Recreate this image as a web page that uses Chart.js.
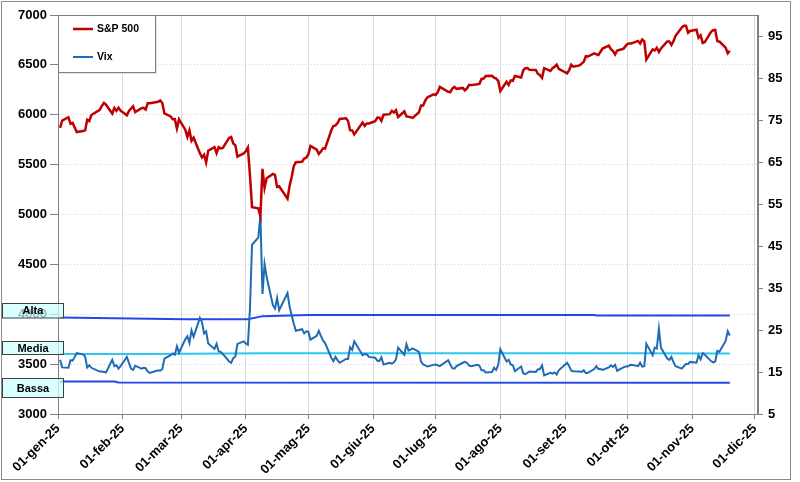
<!DOCTYPE html>
<html>
<head>
<meta charset="utf-8">
<script src="https://cdn.jsdelivr.net/npm/chart.js@4.4.0/dist/chart.umd.min.js"></script>
<style>
html, body { margin: 0; padding: 0; background: #fff; }
</style>
</head>
<body>
<canvas id="mycanvas" width="800" height="482"></canvas>
<script>
// giorni di borsa 2025 (mese-giorno)
var dates = [
	'01-02','01-03','01-06','01-07','01-08','01-10','01-13','01-14','01-15','01-16','01-17','01-21','01-22','01-23','01-24','01-27','01-28','01-29','01-30','01-31',
	'02-03','02-04','02-05','02-06','02-07','02-10','02-11','02-12','02-13','02-14','02-18','02-19','02-20','02-21','02-24','02-25','02-26','02-27','02-28',
	'03-03','03-04','03-05','03-06','03-07','03-10','03-11','03-12','03-13','03-14','03-17','03-18','03-19','03-20','03-21','03-24','03-25','03-26','03-27','03-28','03-31',
	'04-01','04-02','04-03','04-04','04-07','04-08','04-09','04-10','04-11','04-14','04-15','04-16','04-17','04-21','04-22','04-23','04-24','04-25','04-28','04-29','04-30',
	'05-01','05-02','05-05','05-06','05-07','05-08','05-09','05-12','05-13','05-14','05-15','05-16','05-19','05-20','05-21','05-22','05-23','05-27','05-28','05-29','05-30',
	'06-02','06-03','06-04','06-05','06-06','06-09','06-10','06-11','06-12','06-13','06-16','06-17','06-18','06-20','06-23','06-24','06-25','06-26','06-27','06-30',
	'07-01','07-02','07-03','07-07','07-08','07-09','07-10','07-11','07-14','07-15','07-16','07-17','07-18','07-21','07-22','07-23','07-24','07-25','07-28','07-29','07-30','07-31',
	'08-01','08-04','08-05','08-06','08-07','08-08','08-11','08-12','08-13','08-14','08-15','08-18','08-19','08-20','08-21','08-22','08-25','08-26','08-27','08-28','08-29',
	'09-02','09-03','09-04','09-05','09-08','09-09','09-10','09-11','09-12','09-15','09-16','09-17','09-18','09-19','09-22','09-23','09-24','09-25','09-26','09-29','09-30',
	'10-01','10-02','10-03','10-06','10-07','10-08','10-09','10-10','10-13','10-14','10-15','10-16','10-17','10-20','10-21','10-22','10-23','10-24','10-27','10-28','10-29','10-30','10-31',
	'11-03','11-04','11-05','11-06','11-07','11-10','11-11','11-12','11-13','11-14','11-17','11-18','11-19'
];

var spx = [
	5869,5942,5975,5909,5918,5827,5836,5843,5950,5937,5997,6049,6086,6119,6101,6012,6068,6039,6071,6041,
	5995,6038,6061,6084,6026,6066,6069,6052,6115,6115,6130,6144,6118,6013,5983,5955,5956,5862,5955,
	5850,5778,5843,5739,5770,5615,5572,5599,5522,5639,5675,5615,5675,5663,5668,5768,5777,5712,5693,5581,5612,
	5633,5671,5397,5074,5062,4983,5457,5268,5363,5406,5397,5276,5283,5158,5288,5376,5485,5525,5529,5561,5569,
	5604,5687,5650,5607,5631,5664,5660,5844,5887,5893,5917,5958,5964,5940,5845,5842,5803,5922,5889,5912,5912,
	5936,5970,5971,5939,6000,6006,6039,6022,6045,5977,6033,5983,5981,5968,6025,6092,6092,6141,6173,6205,
	6198,6227,6279,6230,6226,6263,6280,6260,6269,6244,6264,6297,6297,6306,6310,6359,6363,6389,6390,6371,6363,6339,
	6238,6330,6299,6345,6340,6389,6373,6446,6467,6469,6450,6449,6411,6396,6370,6467,6439,6466,6481,6502,6460,
	6416,6448,6502,6482,6495,6513,6532,6587,6584,6615,6607,6600,6632,6664,6694,6657,6638,6605,6644,6661,6688,
	6711,6715,6716,6740,6715,6754,6735,6553,6655,6644,6671,6629,6664,6735,6735,6699,6738,6792,6875,6891,6891,6822,6840,
	6852,6772,6796,6720,6729,6832,6847,6851,6737,6734,6672,6617,6642
];

var vix = [
	17.9,16.1,16.0,17.8,17.7,19.5,19.2,18.7,16.1,16.6,16.0,15.1,15.1,15.0,14.9,17.9,16.4,16.6,15.8,16.4,
	18.6,17.2,15.8,15.5,16.5,15.8,16.0,15.9,15.1,14.8,15.4,15.3,15.7,18.2,19.0,19.4,19.1,21.1,19.6,
	22.8,23.5,21.9,24.9,23.4,27.9,26.9,24.2,24.7,21.8,20.5,21.7,19.9,19.8,19.3,17.5,17.2,18.3,18.7,21.7,22.3,
	21.8,21.5,30.0,45.3,47.0,52.3,33.6,40.7,37.6,30.9,30.1,32.6,29.7,33.8,30.6,28.5,26.5,24.8,25.2,24.2,24.7,
	24.6,22.7,23.6,24.8,23.6,22.5,21.9,18.4,17.6,18.6,17.8,17.2,18.1,18.1,20.9,20.3,22.3,19.0,19.3,19.2,18.6,
	18.4,17.7,17.6,18.5,16.8,17.2,17.0,17.3,18.0,20.8,19.1,21.6,20.1,20.6,19.8,17.5,16.8,16.6,16.3,16.7,
	16.8,16.6,16.4,17.8,16.8,15.9,15.8,16.4,17.2,17.4,17.2,16.5,16.4,16.7,16.5,15.4,15.4,14.9,15.0,16.0,15.5,16.7,
	20.4,17.5,17.9,16.8,16.6,15.2,16.3,14.7,14.5,14.8,15.1,15.0,15.6,15.7,16.6,14.2,14.8,14.6,14.9,14.4,15.4,
	17.2,16.4,15.3,15.2,15.1,15.0,15.4,14.7,14.8,15.7,16.4,15.7,15.7,15.5,16.1,16.6,16.2,16.7,15.3,16.1,16.3,
	16.3,16.6,16.7,16.4,17.2,16.3,16.4,21.7,19.0,20.8,20.6,25.3,20.8,18.2,17.9,18.6,17.3,16.4,15.8,16.4,16.9,16.9,17.4,
	17.2,19.0,18.0,19.5,19.1,17.6,17.3,17.5,20.0,19.8,22.4,24.7,23.7
];

// livelli Vix (alta / media / bassa)
var altaDates = ['01-02','03-03','04-02','04-09','05-01','09-15','09-16','11-19'];
var altaVals = [28.0, 27.55, 27.55, 28.3, 28.55, 28.55, 28.45, 28.45];
var mediaDates = ['01-02','02-14','04-10','10-03','11-19'];
var mediaVals = [19.3, 19.3, 19.45, 19.45, 19.4];
var bassaDates = ['01-02','01-28','01-30','11-19'];
var bassaVals = [12.75, 12.75, 12.5, 12.45];
var bandLabels = ['Alta', 'Media', 'Bassa'];

var monthStarts = ['01-01','02-01','03-01','04-01','05-01','06-01','07-01','08-01','09-01','10-01','11-01','12-01'];
var monthLabels = ['01-gen-25','01-feb-25','01-mar-25','01-apr-25','01-mag-25','01-giu-25','01-lug-25','01-ago-25','01-set-25','01-ott-25','01-nov-25','01-dic-25'];
var rightTicks = [5, 15, 25, 35, 45, 55, 65, 75, 85, 95];

var FONT = 'Arial, "Liberation Sans", sans-serif';

function dayOf(md) {
	var p = md.split('-');
	return (Date.UTC(2025, +p[0] - 1, +p[1]) - Date.UTC(2025, 0, 1)) / 86400000;
}
function pts(d, v) {
	var out = [];
	for (var i in d) {
		out.push({ x: dayOf(d[i]), y: v[i] });
	}
	return out;
}
var monthDays = monthStarts.map(dayOf);

var decor = {
	id: 'decor',
	beforeDraw: function(chart) {
		var c = chart.ctx;
		c.save();
		c.fillStyle = '#fff';
		c.fillRect(0, 0, chart.width, chart.height);
		c.strokeStyle = '#8a8a8a';
		c.lineWidth = 1;
		c.strokeRect(1.5, 1.5, 789, 478);
		c.restore();
	},
	afterDraw: function(chart) {
		var c = chart.ctx, a = chart.chartArea;
		c.save();
		c.strokeStyle = '#808080';
		c.lineWidth = 1;
		c.strokeRect(Math.round(a.left) + 0.5, Math.round(a.top) + 0.5, Math.round(a.right - a.left) - 1, Math.round(a.bottom - a.top));

		// legenda
		var lx = Math.round(a.left) + 0.5, ly = Math.round(a.top) + 0.5;
		c.fillStyle = '#c8c8c8';
		c.fillRect(lx + 1, ly + 1, 97, 57);
		c.fillStyle = '#fff';
		c.fillRect(lx, ly, 97, 57);
		c.strokeStyle = '#808080';
		c.strokeRect(lx, ly, 97, 57);
		var ds = chart.data.datasets;
		c.font = 'bold 10.5px ' + FONT;
		c.textBaseline = 'middle';
		c.textAlign = 'left';
		for (var i = 0; i < 2; i++) {
			var yy = a.top + 14 + i * 28;
			c.strokeStyle = ds[i].borderColor;
			c.lineWidth = ds[i].borderWidth;
			c.beginPath();
			c.moveTo(a.left + 15, yy);
			c.lineTo(a.left + 35, yy);
			c.stroke();
			c.fillStyle = '#000';
			c.fillText(ds[i].label, a.left + 39, yy + 0.5);
		}

		// etichette alta / media / bassa
		var y1 = chart.scales.y1;
		var firstVals = [altaVals[0], mediaVals[0], bassaVals[0]];
		var boxes = [{ dy: -14, h: 14.5 }, { dy: -13, h: 13 }, { dy: -3, h: 19 }];
		c.font = 'bold 11px ' + FONT;
		c.textAlign = 'center';
		for (var j = 0; j < 3; j++) {
			var py = y1.getPixelForValue(firstVals[j]);
			var top = Math.round(py + boxes[j].dy) + 0.5;
			c.fillStyle = 'rgba(204,255,255,0.72)';
			c.fillRect(2.5, top, 61, boxes[j].h);
			c.strokeStyle = '#404040';
			c.lineWidth = 1;
			c.strokeRect(2.5, top, 61, boxes[j].h);
			c.fillStyle = '#000';
			c.fillText(bandLabels[j], 33, top + boxes[j].h / 2 + 0.5);
		}
		c.restore();
	}
};

Chart.defaults.font.family = FONT;

var ctx = document.getElementById('mycanvas');
var chart = new Chart(ctx, {
	type: 'line',
	data: {
		datasets: [
			{ label: 'S&P 500', data: pts(dates, spx), yAxisID: 'y', borderColor: '#C00000', borderWidth: 2.5, pointRadius: 0, tension: 0 },
			{ label: 'Vix', data: pts(dates, vix), yAxisID: 'y1', borderColor: '#1F6CB5', borderWidth: 2, pointRadius: 0, tension: 0 },
			{ label: 'Alta', data: pts(altaDates, altaVals), yAxisID: 'y1', borderColor: '#2447E6', borderWidth: 2, pointRadius: 0 },
			{ label: 'Media', data: pts(mediaDates, mediaVals), yAxisID: 'y1', borderColor: '#2CC7F2', borderWidth: 2, pointRadius: 0 },
			{ label: 'Bassa', data: pts(bassaDates, bassaVals), yAxisID: 'y1', borderColor: '#2447E6', borderWidth: 2, pointRadius: 0 }
		]
	},
	options: {
		responsive: false,
		animation: false,
		layout: { padding: { top: 15, left: 0, right: 0, bottom: 0 } },
		plugins: { legend: { display: false }, tooltip: { enabled: false } },
		scales: {
			x: {
				type: 'linear',
				min: 0,
				max: 335.5,
				afterBuildTicks: function(s) { s.ticks = monthDays.map(function(d) { return { value: d }; }); },
				afterFit: function(s) { s.height = 68; },
				ticks: {
					autoSkip: false, minRotation: 45, maxRotation: 45, padding: 2, color: '#000',
					font: { size: 13, weight: 'bold' },
					callback: function(v) { var i = monthDays.indexOf(v); return i >= 0 ? monthLabels[i] : ''; }
				},
				grid: { color: '#dadada', tickColor: '#808080', tickLength: 5 },
				border: { color: '#808080' }
			},
			y: {
				position: 'left',
				min: 3000,
				max: 7000,
				afterFit: function(s) { s.width = 58; },
				ticks: {
					stepSize: 500, padding: 3, color: '#000', font: { size: 13, weight: 'bold' },
					callback: function(v) { return String(v); }
				},
				grid: { color: '#d4d4d4', tickColor: '#808080', tickLength: 8 },
				border: { color: '#808080', dash: [1, 2] }
			},
			y1: {
				position: 'right',
				min: 5,
				max: 100,
				afterBuildTicks: function(s) { s.ticks = rightTicks.map(function(v) { return { value: v }; }); },
				afterFit: function(s) { s.width = 42; },
				ticks: { padding: 5, color: '#000', font: { size: 13, weight: 'bold' } },
				grid: { drawOnChartArea: false, tickColor: '#808080', tickLength: 5 },
				border: { color: '#808080' }
			}
		}
	},
	plugins: [decor]
});
</script>
</body>
</html>
